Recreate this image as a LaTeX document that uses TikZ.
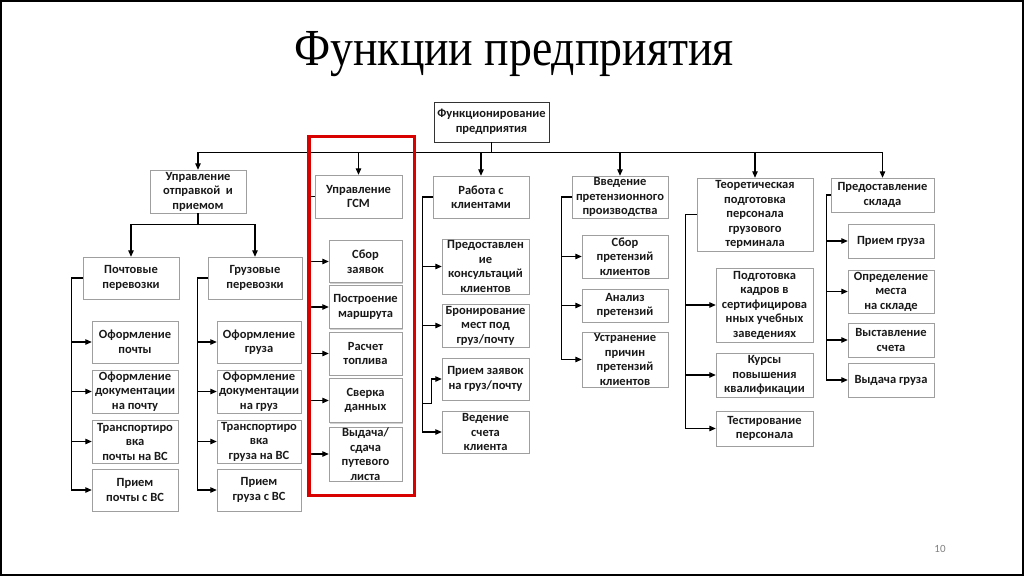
\documentclass[tikz,border=0pt]{standalone}
\usepackage{fontspec}
\setmainfont{Carlito}
\newfontfamily\titlefont[FakeStretch=0.88]{Liberation Serif}
\usetikzlibrary{arrows.meta, shadows}

\begin{document}
\begin{tikzpicture}[
    x=1pt, y=-1pt,
    >={Triangle[length=6.5pt,width=5.5pt]},
    box/.style={rectangle, draw=gray!75, fill=white, align=center, inner sep=0.5pt,
        text=black!90, font=\fontsize{12.5}{14.5}\selectfont\bfseries,
        drop shadow={shadow xshift=1.2pt, shadow yshift=-1.2pt, fill=black, opacity=0.18}},
    sz/.style 2 args={minimum width=#1pt, minimum height=#2pt},
    conn/.style={draw=black, line width=1.1pt}
]
    \useasboundingbox (0,0) rectangle (1024,576);
    \node[font=\titlefont\fontsize{52}{56}\selectfont] (title) at (514,54) {Функции предприятия};

    % root and first level
    \node[box, sz={115}{40}, draw=black!80] (top) at (491.5,122) {Функционирование\\предприятия};
    \node[box, sz={96}{43}] (upr) at (198,191.5) {Управление\\отправкой~ и\\приемом};
    \node[box, sz={87}{43}] (gsm) at (358.5,196.5) {Управление\\ГСМ};
    \node[box, sz={96}{42}] (rab) at (481,197) {Работа с\\клиентами};
    \node[box, sz={96}{42}] (pret) at (620,197) {Введение\\претензионного\\производства};
    \node[box, sz={116}{73}] (teor) at (755,214.5) {Теоретическая\\подготовка\\персонала\\грузового\\терминала};
    \node[box, sz={103}{34}] (sklad) at (882.5,195) {Предоставление\\склада};

    % transport branch
    \node[box, sz={96}{42}] (pocht) at (131,278) {Почтовые\\перевозки};
    \node[box, sz={94}{42}] (gruz) at (255,278) {Грузовые\\перевозки};
    \node[box, sz={86}{42}] (pm1) at (135,342) {Оформление\\почты};
    \node[box, sz={86}{43}] (pm2) at (135,391.5) {Оформление\\документации\\на почту};
    \node[box, sz={86}{43}] (pm3) at (135,441.5) {Транспортиро\\вка\\почты на ВС};
    \node[box, sz={86}{42}] (pm4) at (135,490) {Прием\\почты с ВС};
    \node[box, sz={84}{42}] (gr1) at (259,342) {Оформление\\груза};
    \node[box, sz={84}{43}] (gr2) at (259,391.5) {Оформление\\документации\\на груз};
    \node[box, sz={84}{43}] (gr3) at (259,441.5) {Транспортиро\\вка\\груза на ВС};
    \node[box, sz={84}{42}] (gr4) at (259,490) {Прием\\груза с ВС};

    % fuel branch
    \node[box, sz={73}{42}] (gs1) at (365.5,261.5) {Сбор\\заявок};
    \node[box, sz={73}{43}] (gs2) at (365.5,307) {Построение\\маршрута};
    \node[box, sz={73}{43}] (gs3) at (365.5,353.5) {Расчет\\топлива};
    \node[box, sz={73}{44}] (gs4) at (365.5,400.5) {Сверка\\данных};
    \node[box, sz={73}{54}] (gs5) at (365.5,454) {Выдача/\\сдача\\путевого\\листа};

    % clients branch
    \node[box, sz={87}{55}] (rk1) at (485.5,266.5) {Предоставлен\\ие\\консультаций\\клиентов};
    \node[box, sz={87}{43}] (rk2) at (485.5,325.5) {Бронирование\\мест под\\груз/почту};
    \node[box, sz={87}{42}] (rk3) at (485.5,379) {Прием заявок\\на груз/почту};
    \node[box, sz={87}{42}] (rk4) at (485.5,432) {Ведение\\счета\\клиента};

    % claims branch
    \node[box, sz={86}{43}] (pr1) at (625,256.5) {Сбор\\претензий\\клиентов};
    \node[box, sz={86}{33}] (pr2) at (625,305.5) {Анализ\\претензий};
    \node[box, sz={86}{55}] (pr3) at (625,359.5) {Устранение\\причин\\претензий\\клиентов};

    % training branch
    \node[box, sz={97}{74}] (tp1) at (764.5,305) {Подготовка\\кадров в\\сертифицирова\\нных учебных\\заведениях};
    \node[box, sz={97}{44}] (tp2) at (764.5,375) {Курсы\\повышения\\квалификации};
    \node[box, sz={97}{35}] (tp3) at (764.5,428.5) {Тестирование\\персонала};

    % storage branch
    \node[box, sz={86}{34}] (sk1) at (891,241) {Прием груза};
    \node[box, sz={86}{43}] (sk2) at (891,291.5) {Определение\\места\\на складе};
    \node[box, sz={86}{34}] (sk3) at (891,340) {Выставление\\счета};
    \node[box, sz={86}{34}] (sk4) at (891,380) {Выдача груза};

    % bus from root
    \draw[conn] (top.south) -- ++(0,10) coordinate (bus);
    \draw[conn] (upr.north |- bus) -- (sklad.north |- bus);
    \foreach \n in {upr,gsm,rab,pret,teor,sklad}
        \draw[conn, ->] (\n.north |- bus) -- (\n.north);

    \draw[conn] (upr.south) -- ++(0,11) coordinate (ub);
    \draw[conn, ->] (ub) -| (pocht.north);
    \draw[conn, ->] (ub) -| (gruz.north);

    % side spines
    \foreach \c in {pm1,pm2,pm3,pm4}
        \draw[conn, ->] (pocht.west) -- ++(-11,0) |- (\c.west);
    \foreach \c in {gr1,gr2,gr3,gr4}
        \draw[conn, ->] (gruz.west) -- ++(-10,0) |- (\c.west);
    \foreach \c in {gs1,gs2,gs3,gs4,gs5}
        \draw[conn, ->] (gsm.west) -- ++(-6,0) |- (\c.west);
    \foreach \c in {rk1,rk2,rk4}
        \draw[conn, ->] (rab.west) -- ++(-10,0) |- (\c.west);
    \draw[conn] (rab.west) -- ++(-10,0) coordinate (rs);
    \draw[conn, ->] ([yshift=-3pt]rs |- rk3.south) -| ([xshift=-10pt]rk3.west) -- (rk3.west);
    \foreach \c in {pr1,pr2,pr3}
        \draw[conn, ->] (pret.west) -- ++(-10,0) |- (\c.west);
    \foreach \c in {tp1,tp2,tp3}
        \draw[conn, ->] (teor.west) -- ++(-11,0) |- (\c.west);
    \foreach \c in {sk1,sk2,sk3,sk4}
        \draw[conn, ->] (sklad.west) -- ++(-4,0) |- (\c.west);

    % highlight
    \draw[red!85!black, line width=3.8pt] (309,136.5) rectangle (414.5,495.5);

    \node[text=gray, font=\fontsize{11}{13}\selectfont] (pnum) at (940,549) {10};
    \draw[line width=2pt] (1,1) rectangle (1023,575);
\end{tikzpicture}
\end{document}
